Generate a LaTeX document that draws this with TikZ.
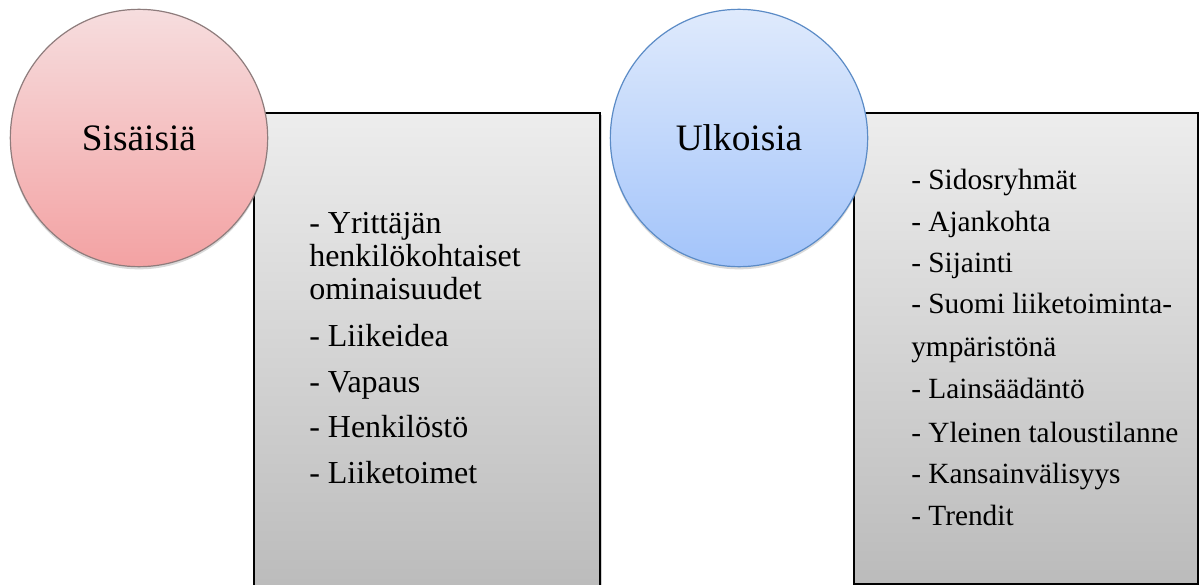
\documentclass[tikz,border=0pt]{standalone}
\usepackage{fontspec}
\setmainfont{Liberation Serif}
\usetikzlibrary{shadows}
\definecolor{pinktop}{HTML}{F6DDDE}
\definecolor{pinkbot}{HTML}{F3A2A3}
\definecolor{pinkline}{HTML}{8E7C7C}
\definecolor{bluetop}{HTML}{DFEAFC}
\definecolor{bluebot}{HTML}{A3C4FA}
\definecolor{blueline}{HTML}{5B8BC6}
\definecolor{graytop}{HTML}{EDEDED}
\definecolor{graybot}{HTML}{BBBBBB}
\tikzset{
  bigcircle/.style={circle, inner sep=0pt, minimum size=193pt, line width=0.9pt,
    drop shadow={shadow xshift=0pt, shadow yshift=-2pt, opacity=0.25, fill=black!60},
    font=\fontsize{28}{34}\selectfont},
  listbox/.style={rectangle, anchor=north west, inner sep=0pt, draw=black, line width=1.2pt,
    top color=graytop, bottom color=graybot,
    drop shadow={shadow xshift=1.5pt, shadow yshift=-1.5pt, opacity=0.3, fill=black!60}},
  leftline/.style={anchor=base west, inner sep=0pt, font=\fontsize{24}{29}\selectfont},
  rightline/.style={anchor=base west, inner sep=0pt, font=\fontsize{22}{26}\selectfont},
}
\begin{document}
\begin{tikzpicture}[x=0.75pt, y=-0.75pt]
\useasboundingbox (0,0) rectangle (1199,585);
% boxes
\node[listbox, minimum width=346*0.75pt, minimum height=480*0.75pt] (lbox) at (253,112) {};
\node[listbox, minimum width=344*0.75pt, minimum height=471*0.75pt] (rbox) at (853,112) {};
% circles
\node[bigcircle, draw=pinkline, top color=pinktop, bottom color=pinkbot] (sis) at (139,138) {Sisäisiä};
\node[bigcircle, draw=blueline, top color=bluetop, bottom color=bluebot] (ulk) at (739,138) {Ulkoisia};
% left list
\node[leftline] (l1) at (309,233) {- Yrittäjän};
\node[leftline] (l2) at (309,266) {henkilökohtaiset};
\node[leftline] (l3) at (309,299) {ominaisuudet};
\node[leftline] (l4) at (309,346) {- Liikeidea};
\node[leftline] (l5) at (309,392) {- Vapaus};
\node[leftline] (l6) at (309,437) {- Henkilöstö};
\node[leftline] (l7) at (309,483) {- Liiketoimet};
% right list
\node[rightline] (r1) at (911,189) {- Sidosryhmät};
\node[rightline] (r2) at (911,231) {- Ajankohta};
\node[rightline] (r3) at (911,272) {- Sijainti};
\node[rightline] (r4) at (911,313) {- Suomi liiketoiminta-};
\node[rightline] (r5) at (911,356) {ympäristönä};
\node[rightline] (r6) at (911,398) {- Lainsäädäntö};
\node[rightline] (r7) at (911,442) {- Yleinen taloustilanne};
\node[rightline] (r8) at (911,483) {- Kansainvälisyys};
\node[rightline] (r9) at (911,525) {- Trendit};
\end{tikzpicture}
\end{document}
